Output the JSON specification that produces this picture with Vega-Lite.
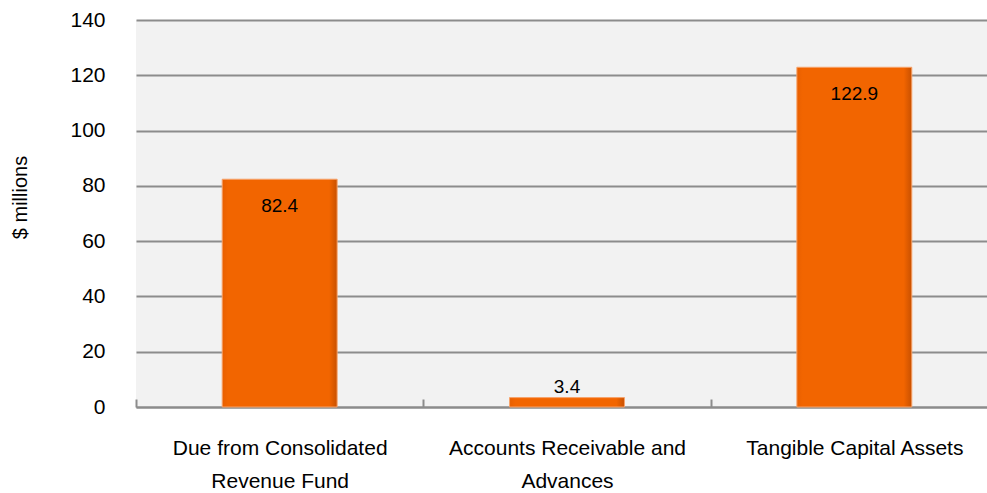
{
  "$schema": "https://vega.github.io/schema/vega-lite/v6.json",
  "width": 851,
  "height": 387,
  "autosize": {"type": "none"},
  "padding": {"left": 136, "top": 20, "right": 0, "bottom": 86},
  "background": "white",
  "view": {"fill": "#f2f2f2", "stroke": null},
  "config": {
    "font": "Liberation Sans, Arial, sans-serif"
  },
  "data": {
    "values": [
      {"category": "Due from Consolidated Revenue Fund", "value": 82.4},
      {"category": "Accounts Receivable and Advances", "value": 3.4},
      {"category": "Tangible Capital Assets", "value": 122.9}
    ]
  },
  "encoding": {
    "x": {
      "field": "category",
      "type": "nominal",
      "sort": null,
      "scale": {"range": [0, 862], "paddingInner": 0.6, "paddingOuter": 0.3},
      "axis": {
        "title": null,
        "labelAngle": 0,
        "labelFontSize": 21,
        "labelColor": "#000000",
        "labelLimit": 0,
        "labelLineHeight": 33,
        "labelPadding": 38,
        "labelBaseline": "top",
        "labelOffset": 143.7,
        "labelExpr": "datum.value == 'Due from Consolidated Revenue Fund' ? ['Due from Consolidated', 'Revenue Fund'] : datum.value == 'Accounts Receivable and Advances' ? ['Accounts Receivable  and', 'Advances'] : datum.value",
        "domainColor": "#8c8c8c",
        "domainWidth": 2,
        "tickColor": "#8c8c8c",
        "tickWidth": 2,
        "tickSize": -8,
        "tickOffset": -143.7
      }
    },
    "y": {
      "field": "value",
      "type": "quantitative",
      "scale": {"domain": [0, 140], "nice": false},
      "axis": {
        "title": "$ millions",
        "titleFontSize": 20,
        "titleFontWeight": "normal",
        "titleColor": "#000000",
        "titleX": -116,
        "titleY": 177,
        "titleAlign": "center",
        "titleBaseline": "middle",
        "values": [0, 20, 40, 60, 80, 100, 120, 140],
        "labelFontSize": 21,
        "labelColor": "#000000",
        "labelPadding": 31,
        "domain": false,
        "ticks": false,
        "gridColor": "#8c8c8c",
        "gridWidth": 2
      }
    }
  },
  "layer": [
    {
      "mark": {
        "type": "bar",
        "fill": {
          "gradient": "linear",
          "x1": 0, "y1": 0, "x2": 1, "y2": 0,
          "stops": [
            {"offset": 0, "color": "#e85f00"},
            {"offset": 0.05, "color": "#f26500"},
            {"offset": 0.93, "color": "#f26500"},
            {"offset": 1, "color": "#c85000"}
          ]
        },
        "stroke": "#f7a36a",
        "strokeWidth": 1
      }
    },
    {
      "transform": [{"filter": "datum.value >= 10"}],
      "mark": {"type": "text", "baseline": "top", "dy": 18, "fontSize": 19, "color": "#000000"},
      "encoding": {"text": {"field": "value", "type": "quantitative", "format": ".1f"}}
    },
    {
      "transform": [{"filter": "datum.value < 10"}],
      "mark": {"type": "text", "baseline": "bottom", "dy": -1, "fontSize": 19, "color": "#000000"},
      "encoding": {"text": {"field": "value", "type": "quantitative", "format": ".1f"}}
    }
  ]
}
